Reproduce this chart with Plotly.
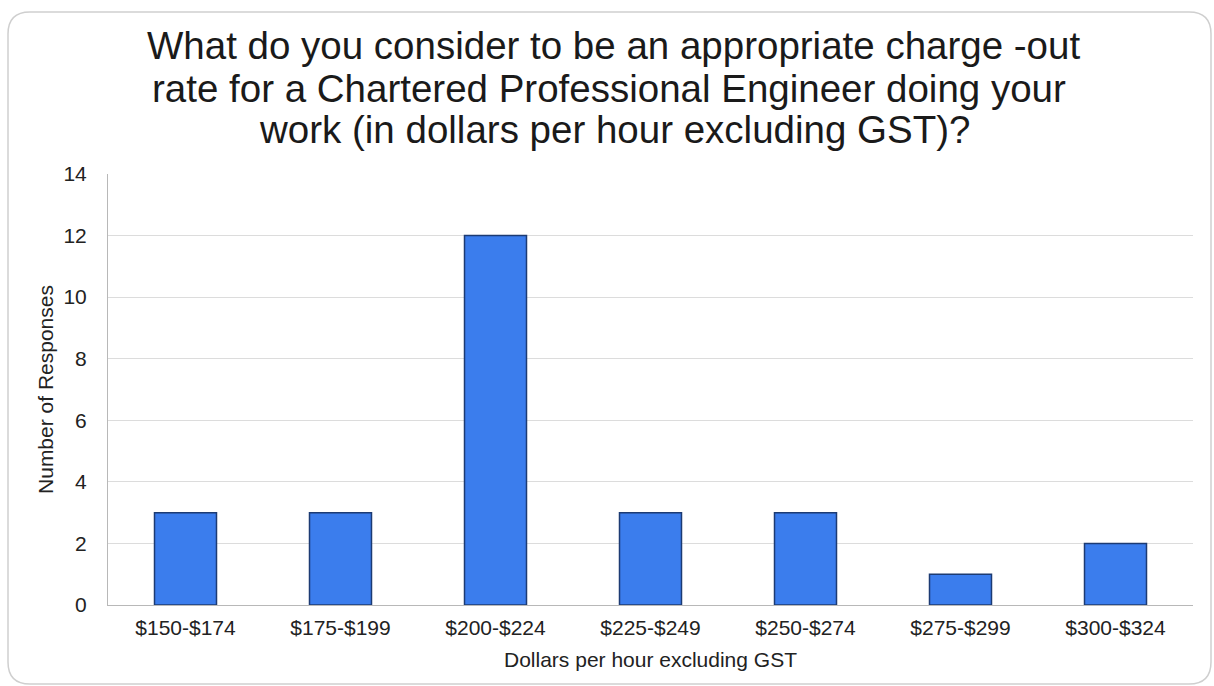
import plotly.graph_objects as go

categories = ["$150-$174", "$175-$199", "$200-$224", "$225-$249", "$250-$274", "$275-$299", "$300-$324"]
responses = [3, 3, 12, 3, 3, 1, 2]
y_ticks = [0, 2, 4, 6, 8, 10, 12, 14]
title_lines = [
    "What do you consider to be an appropriate charge -out",
    "rate for a Chartered Professional Engineer doing your",
    "work (in dollars per hour excluding GST)?",
]
x_title = "Dollars per hour excluding GST"
y_title = "Number of Responses"

W, H = 1214, 686
L, R, T, B = 108, 21, 174, 81
PW, PH = W - L - R, H - T - B
FONT = "Liberation Sans, Arial, sans-serif"


def px(x):
    return (x - L) / PW


def py(y):
    return (H - B - y) / PH


fig = go.Figure(
    go.Bar(
        x=categories,
        y=responses,
        marker=dict(color="#3b7ded", line=dict(color="#1c3b73", width=1.5)),
        hoverinfo="x+y",
    )
)

# rounded outer border
x0, x1, y0, y1, r = 8, 1211, 12, 684, 22
path = (
    f"M {px(x0 + r)},{py(y0)} L {px(x1 - r)},{py(y0)} "
    f"Q {px(x1)},{py(y0)} {px(x1)},{py(y0 + r)} "
    f"L {px(x1)},{py(y1 - r)} Q {px(x1)},{py(y1)} {px(x1 - r)},{py(y1)} "
    f"L {px(x0 + r)},{py(y1)} Q {px(x0)},{py(y1)} {px(x0)},{py(y1 - r)} "
    f"L {px(x0)},{py(y0 + r)} Q {px(x0)},{py(y0)} {px(x0 + r)},{py(y0)} Z"
)
fig.add_shape(type="path", path=path, xref="paper", yref="paper",
              line=dict(color="#cfcfcf", width=1.5), layer="below")

centers_x = [613, 609, 614]
centers_y = [45.5, 88, 129.5]
for text, cx, cy in zip(title_lines, centers_x, centers_y):
    fig.add_annotation(text=text, xref="paper", yref="paper", x=px(cx), y=py(cy),
                       xanchor="center", yanchor="middle", showarrow=False,
                       font=dict(family=FONT, size=38.5, color="#1a1a1a"))

fig.update_layout(
    width=W, height=H, autosize=False,
    margin=dict(l=L, r=R, t=T, b=B),
    paper_bgcolor="white", plot_bgcolor="white",
    bargap=0.6, showlegend=False,
    font=dict(family=FONT, color="#222222"),
)
fig.update_xaxes(
    showline=True, linecolor="#b8b8b8", linewidth=1,
    showgrid=False, ticks="", ticklabelstandoff=4,
    tickfont=dict(size=21, color="#222222"),
    title=dict(text=x_title, font=dict(size=21, color="#222222"), standoff=14),
)
fig.update_yaxes(
    range=[0, 14], tickvals=y_ticks, showline=True, linecolor="#b8b8b8", linewidth=1,
    showgrid=True, gridcolor="#dcdcdc", gridwidth=1, zeroline=False,
    ticks="", ticklabelstandoff=16,
    tickfont=dict(size=21, color="#222222"),
    title=dict(text=y_title, font=dict(size=21, color="#222222"), standoff=4),
)

fig.write_html("out.html")
